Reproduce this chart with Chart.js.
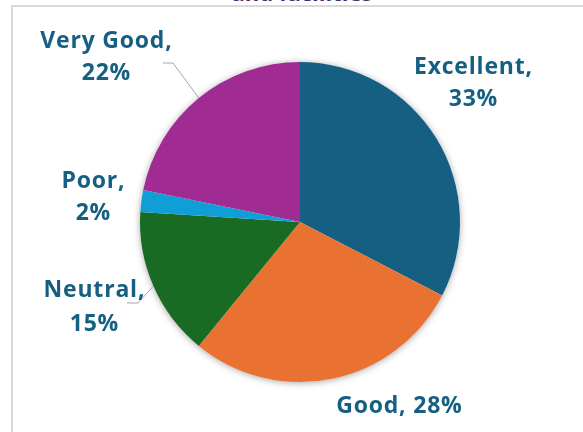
<!DOCTYPE html>
<html>
<head>
<meta charset="utf-8">
<script src="https://cdn.jsdelivr.net/npm/chart.js@4.4.1/dist/chart.umd.min.js"></script>
<style>
  html, body { margin: 0; padding: 0; background: #ffffff; overflow: hidden; }
  #wrap { position: relative; width: 583px; height: 432px; overflow: hidden; background: #ffffff; }
  #frame { position: absolute; left: 11px; top: 5px; width: 700px; height: 600px; border: 2px solid #d9d9d9; box-sizing: border-box; }
  #title { position: absolute; left: 0; width: 604px; top: -20px; text-align: center; font: bold 22px "Open Sans", sans-serif; line-height: 24px; color: #3b2e72; white-space: nowrap; }
  canvas { position: absolute; left: 0; top: 0; }
</style>
</head>
<body>
<div id="wrap">
  <div id="frame"></div>
  <div id="title">and facilities</div>
  <canvas id="c" width="583" height="432"></canvas>
</div>
<script>
// ---- data ----
const categories = ["Excellent", "Good", "Neutral", "Poor", "Very Good"];
const shares = [32.6, 28.3, 15.1, 2.2, 21.8];
const sliceColors = ["#156082", "#E97132", "#196B24", "#0F9ED5", "#A02B93"];

const REF_R = 160;
// label layout (offsets from pie centre in px at reference radius, baseline of each line)
const labelLayout = [
  { x: 173, lines: [-148, -116] },            // Excellent
  { x: 99, lines: [191], single: true },      // Good
  { x: -206, lines: [75, 109] },              // Neutral
  { x: -207, lines: [-34, -2] },              // Poor
  { x: -194, lines: [-174, -142] }            // Very Good
];
const leaders = {
  2: { elbow: [-162, 81], end: [-173, 81] },
  4: { elbow: [-127, -159], end: [-137, -159] }
};

const shadowPlugin = {
  id: 'pieShadow',
  beforeDatasetsDraw(chart) {
    const arc = chart.getDatasetMeta(0).data[0];
    if (!arc) return;
    const ctx = chart.ctx;
    ctx.save();
    ctx.beginPath();
    ctx.arc(arc.x, arc.y, arc.outerRadius, 0, Math.PI * 2);
    ctx.fillStyle = '#ffffff';
    ctx.shadowColor = 'rgba(0,0,0,0.35)';
    ctx.shadowBlur = 7;
    ctx.shadowOffsetX = 0;
    ctx.shadowOffsetY = 1;
    ctx.fill();
    ctx.restore();
  }
};

const labelPlugin = {
  id: 'pieLabels',
  afterDatasetsDraw(chart) {
    const meta = chart.getDatasetMeta(0);
    const ctx = chart.ctx;
    const total = shares.reduce((a, b) => a + b, 0);
    meta.data.forEach((arc, i) => {
      const cx = arc.x, cy = arc.y, r = arc.outerRadius;
      const k = r / REF_R;
      // leader line
      if (leaders[i]) {
        const mid = (arc.startAngle + arc.endAngle) / 2;
        const px = cx + Math.cos(mid) * r, py = cy + Math.sin(mid) * r;
        const L = leaders[i];
        ctx.save();
        ctx.strokeStyle = '#a6a6a6';
        ctx.lineWidth = 1;
        ctx.beginPath();
        ctx.moveTo(px, py);
        ctx.lineTo(cx + L.elbow[0] * k, cy + L.elbow[1] * k);
        ctx.lineTo(cx + L.end[0] * k, cy + L.end[1] * k);
        ctx.stroke();
        ctx.restore();
      }
      const pct = Math.round(shares[i] / total * 100) + '%';
      const lay = labelLayout[i];
      const texts = lay.single ? [categories[i] + ', ' + pct] : [categories[i] + ',', pct];
      ctx.save();
      ctx.fillStyle = '#156082';
      ctx.font = 'bold 23px "Open Sans", sans-serif';
      ctx.letterSpacing = '0.8px';
      ctx.textAlign = 'center';
      ctx.textBaseline = 'alphabetic';
      texts.forEach((t, j) => {
        ctx.fillText(t, cx + lay.x * k + 0.4, cy + lay.lines[j] * k);
      });
      ctx.restore();
    });
  }
};

new Chart(document.getElementById('c'), {
  type: 'pie',
  data: {
    labels: categories,
    datasets: [{
      data: shares,
      backgroundColor: sliceColors,
      borderWidth: 0,
      hoverOffset: 0
    }]
  },
  options: {
    responsive: false,
    animation: false,
    layout: { padding: { left: 140, right: 123, top: 62, bottom: 50 } },
    plugins: {
      legend: { display: false },
      tooltip: { enabled: false },
      title: { display: false }
    }
  },
  plugins: [shadowPlugin, labelPlugin]
});
</script>
</body>
</html>
